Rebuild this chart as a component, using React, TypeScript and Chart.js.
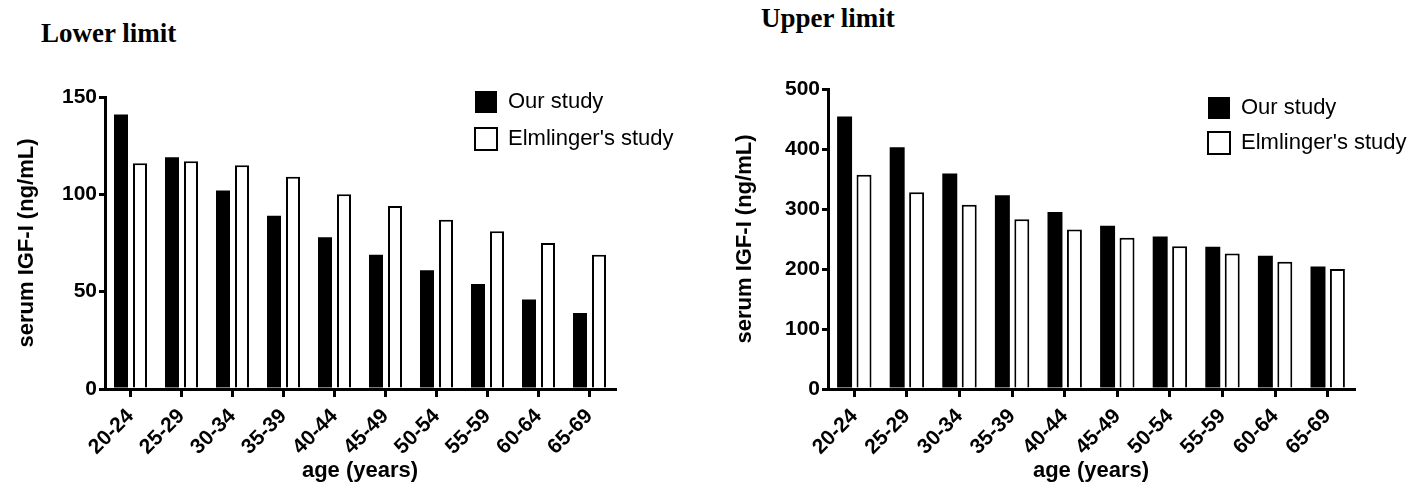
import React, { useEffect, useRef } from "react";
import { Chart, registerables } from "chart.js";

Chart.register(...registerables);

// ---------- data ----------
const categories = ["20-24", "25-29", "30-34", "35-39", "40-44", "45-49", "50-54", "55-59", "60-64", "65-69"];
const seriesNames = ["Our study", "Elmlinger's study"];

const lowerOurStudy = [141, 119, 102, 89, 78, 69, 61, 54, 46, 39];
const lowerElmlinger = [116, 117, 115, 109, 100, 94, 87, 81, 75, 69];

const upperOurStudy = [454, 403, 359, 323, 295, 272, 254, 237, 222, 204];
const upperElmlinger = [357, 328, 307, 283, 266, 252, 238, 226, 212, 200];

const lowerYTicks = [0, 50, 100, 150];
const upperYTicks = [0, 100, 200, 300, 400, 500];

const xTitle = "age (years)";
const yTitle = "serum IGF-I (ng/mL)";

// ---------- styling ----------
const SANS = "'Liberation Sans', Arial, Helvetica, sans-serif";
const SERIF = "'Liberation Serif', 'Times New Roman', serif";

const legendMover = {
  id: "legendMover",
  afterLayout(chart: any, _args: any, opts: any) {
    const lg = chart.legend;
    if (!lg || opts == null || opts.x == null) return;
    lg.left = opts.x;
    lg.top = opts.y;
    lg.right = opts.x + 300;
    lg.bottom = opts.y + 120;
  },
};

type PanelProps = {
  left: number;
  our: number[];
  elm: number[];
  yTicks: number[];
  yAxisWidth: number;
  padRight: number;
  padTop: number;
  yTitlePad: number;
  legendX: number;
  legendY: number;
  legendPad: number;
  catPct: number;
  barPct: number;
};

function Panel(p: PanelProps) {
  const ref = useRef<HTMLCanvasElement | null>(null);
  useEffect(() => {
    if (!ref.current) return;
    const chart = new Chart(ref.current, {
      type: "bar",
      data: {
        labels: categories,
        datasets: [
          {
            label: seriesNames[0],
            data: p.our,
            backgroundColor: "#000000",
            borderColor: "#000000",
            borderWidth: 0,
            categoryPercentage: p.catPct,
            barPercentage: p.barPct,
          },
          {
            label: seriesNames[1],
            data: p.elm,
            backgroundColor: "#ffffff",
            borderColor: "#000000",
            borderWidth: 2,
            categoryPercentage: p.catPct,
            barPercentage: p.barPct,
          },
        ],
      },
      plugins: [legendMover],
      options: {
        responsive: false,
        animation: false,
        devicePixelRatio: 1,
        layout: { padding: { left: 0, right: p.padRight, top: p.padTop, bottom: 0 } },
        plugins: {
          legend: {
            position: "chartArea" as any,
            align: "start",
            labels: {
              boxWidth: 22,
              boxHeight: 22,
              padding: p.legendPad,
              color: "#000",
              font: { family: SANS, size: 22, weight: "normal" },
            },
          },
          legendMover: { x: p.legendX, y: p.legendY },
          tooltip: { enabled: false },
          title: { display: false },
        } as any,
        scales: {
          x: {
            offset: true,
            afterFit: (s: any) => {
              s.height = 99;
            },
            border: { display: true, color: "#000", width: 3 },
            grid: {
              offset: false,
              drawOnChartArea: false,
              drawTicks: true,
              tickLength: 8,
              tickWidth: 3,
              tickColor: "#000",
              color: "#000",
              lineWidth: 3,
            },
            ticks: {
              autoSkip: false,
              minRotation: 45,
              maxRotation: 45,
              padding: 7,
              color: "#000",
              font: { family: SANS, size: 21, weight: "bold" },
            },
            title: {
              display: true,
              text: xTitle,
              color: "#000",
              padding: { top: 0, bottom: 4 },
              font: { family: SANS, size: 22, weight: "bold" },
            },
          },
          y: {
            min: p.yTicks[0],
            max: p.yTicks[p.yTicks.length - 1],
            afterFit: (s: any) => {
              s.width = p.yAxisWidth;
            },
            border: { display: true, color: "#000", width: 3 },
            grid: {
              drawOnChartArea: false,
              drawTicks: true,
              tickLength: 6,
              tickWidth: 3,
              tickColor: "#000",
              color: "#000",
              lineWidth: 3,
            },
            ticks: {
              stepSize: p.yTicks[1] - p.yTicks[0],
              padding: 2,
              color: "#000",
              font: { family: SANS, size: 21, weight: "bold" },
            },
            title: {
              display: true,
              text: yTitle,
              color: "#000",
              padding: { top: p.yTitlePad, bottom: 0 },
              font: { family: SANS, size: 22, weight: "bold" },
            },
          },
        },
      } as any,
    });
    return () => chart.destroy();
  }, []);
  return (
    <canvas
      ref={ref}
      width={714}
      height={488}
      style={{ position: "absolute", left: p.left, top: 0, width: 714, height: 488 }}
    />
  );
}

const titleStyle: React.CSSProperties = {
  position: "absolute",
  fontFamily: SERIF,
  fontWeight: "bold",
  fontSize: 27,
  lineHeight: "27px",
  color: "#000",
  whiteSpace: "nowrap",
};

export default function App() {
  return (
    <div style={{ position: "fixed", left: 0, top: 0, width: 1428, height: 488, background: "#fff", overflow: "hidden" }}>
      <div style={{ ...titleStyle, left: 41, top: 20 }}>Lower limit</div>
      <div style={{ ...titleStyle, left: 761, top: 5 }}>Upper limit</div>
      <Panel
        left={0}
        our={lowerOurStudy}
        elm={lowerElmlinger}
        yTicks={lowerYTicks}
        yAxisWidth={105}
        padRight={99}
        padTop={97}
        yTitlePad={14}
        legendX={460}
        legendY={76}
        legendPad={15}
        catPct={0.745}
        barPct={0.737}
      />
      <Panel
        left={714}
        our={upperOurStudy}
        elm={upperElmlinger}
        yTicks={upperYTicks}
        yAxisWidth={114}
        padRight={74}
        padTop={89}
        yTitlePad={18}
        legendX={481}
        legendY={84}
        legendPad={13}
        catPct={0.739}
        barPct={0.77}
      />
    </div>
  );
}
